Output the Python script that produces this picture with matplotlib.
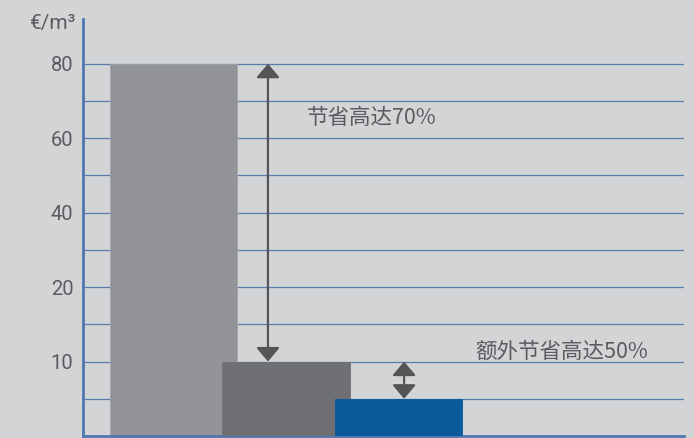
import matplotlib.pyplot as plt
import numpy as np
from matplotlib.patches import ArrowStyle

plt.rcParams['font.family'] = ['Noto Sans CJK SC', 'DejaVu Sans']

# data
categories = ['A', 'B', 'C']
costs = [80, 10, 5]
bar_colors = ['#939497', '#6f7073', '#0b5a99']
major_ticks = [10, 20, 40, 60, 80]
minor_ticks = [5, 15, 30, 50, 70]
unit_label = '€/m³'
saving_1 = '节省高达70%'
saving_2 = '额外节省高达50%'

# the value axis is piecewise: each labelled step is the same height
scale_vals = [0, 10, 20, 40, 60, 80, 100]
scale_pos = [0, 1, 2, 3, 4, 5, 6]

def fwd(v):
    return np.interp(v, scale_vals, scale_pos)

def inv(p):
    return np.interp(p, scale_pos, scale_vals)

bg = '#d3d4d6'
blue = '#4f76b0'
txt = '#5a5b5e'

fig = plt.figure(figsize=(6.94, 4.38), dpi=100, facecolor=bg)
ax = fig.add_axes([83 / 694, 2 / 438, (684 - 83) / 694, (436 - 19) / 438])
ax.set_facecolor(bg)
ax.set_yscale('function', functions=(fwd, inv))

x = np.arange(len(categories))
for i in range(len(categories)):
    ax.bar(x[i], costs[i], width=1.13, color=bar_colors[i],
           edgecolor='#a2a3a6' if i == 0 else bar_colors[i], linewidth=0.6,
           zorder=2 + i)

ax.set_xlim(-0.804, 4.538)
ax.set_ylim(0, 92)

ax.set_yticks(major_ticks)
ax.set_yticks(minor_ticks, minor=True)
ax.yaxis.set_minor_formatter(plt.NullFormatter())
ax.set_yticklabels([str(t) for t in major_ticks], family='Roboto', fontsize=14.5, color=txt)
ax.tick_params(axis='y', which='both', length=0, pad=7)
ax.set_xticks([])
ax.grid(axis='y', which='both', color='#5a7db0', linewidth=0.9)
ax.set_axisbelow(True)

for s in ['top', 'right']:
    ax.spines[s].set_visible(False)
ax.spines['left'].set_color(blue)
ax.spines['left'].set_linewidth(2)
ax.spines['bottom'].set_color(blue)
ax.spines['bottom'].set_linewidth(2)

arrow = ArrowStyle('<|-|>', head_length=8.5, head_width=7.2)
ax.annotate('', xy=(0.84, costs[0]), xytext=(0.84, costs[1]),
            arrowprops=dict(arrowstyle=arrow, color='#545557', lw=1.6,
                            shrinkA=0, shrinkB=0, mutation_scale=1), zorder=6)
ax.annotate('', xy=(2.05, costs[1]), xytext=(2.05, costs[2]),
            arrowprops=dict(arrowstyle=arrow, color='#545557', lw=1.6,
                            shrinkA=0, shrinkB=0, mutation_scale=1), zorder=6)

ax.text(1.187, 65.5, saving_1, fontsize=15.5, color=txt, ha='left', va='center')
ax.text(2.68, 11.3, saving_2, fontsize=15.5, color=txt, ha='left', va='center')

fig.text(75 / 694, 1 - 24 / 438, unit_label, family='Roboto', fontsize=15,
         color=txt, ha='right', va='center')

fig.savefig('out.png', dpi=100, facecolor=bg)
